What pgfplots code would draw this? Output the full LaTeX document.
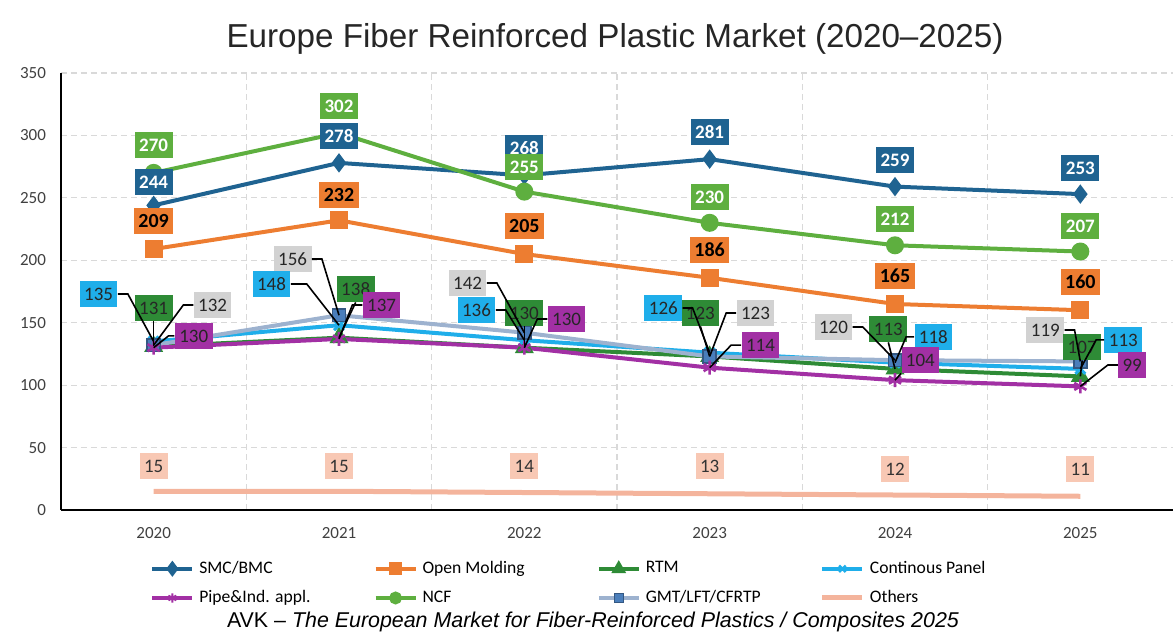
\documentclass[border=0pt]{standalone}
\usepackage{fontspec}
\setmainfont{Carlito}
\newfontfamily\arial{Liberation Sans}
\usepackage{pgfplots}
\pgfplotsset{compat=1.18}
\definecolor{smc}{HTML}{1F6391}
\definecolor{omold}{HTML}{ED7D31}
\definecolor{rtm}{HTML}{2E8B36}
\definecolor{cpan}{HTML}{1FAEEA}
\definecolor{pipe}{HTML}{A230A4}
\definecolor{ncf}{HTML}{5EAF3F}
\definecolor{gmt}{HTML}{9DB2CF}
\definecolor{gmtbox}{HTML}{D2D2D2}
\definecolor{gmtmark}{HTML}{4A7EBB}
\definecolor{oth}{HTML}{F4B49C}
\definecolor{othbox}{HTML}{F8C8B4}
\definecolor{gridc}{HTML}{D9D9D9}
\tikzset{lab/.style={inner sep=2.2pt, minimum height=13pt, font=\fontsize{9.5}{11}\selectfont},
  lead/.style={line width=0.8pt, black}}
\pgfplotsset{geom/.style={at={(30.5pt,63.5pt)}, anchor=south west,
  scale only axis, width=556pt, height=218.5pt,
  xmin=-0.5, xmax=5.5, ymin=0, ymax=350}}
\begin{document}
\begin{tikzpicture}
\path[use as bounding box] (0pt,0pt) rectangle (587pt,318.5pt);
\node[font=\arial\fontsize{16.6}{19}\selectfont, text=black!85] at (307.5pt,299pt) {Europe Fiber Reinforced Plastic Market (2020–2025)};
\node[font=\arial\fontsize{10.7}{12}\selectfont] at (296.5pt,7.5pt) {AVK – \textit{The European Market for Fiber-Reinforced Plastics / Composites 2025}};
\begin{axis}[
  geom,
  axis lines*=left,
  axis line style={black, line width=1.1pt},
  xtick={0,1,2,3,4,5},
  xticklabels={2020,2021,2022,2023,2024,2025},
  minor xtick={0.5,1.5,2.5,3.5,4.5},
  ytick={0,50,...,350},
  major tick length=0pt, minor tick length=0pt,
  ymajorgrids, xminorgrids,
  major grid style={gridc, dash pattern=on 3pt off 2pt, line width=0.6pt},
  minor grid style={gridc, dash pattern=on 3pt off 2pt, line width=0.6pt},
  /pgf/number format/assume math mode=true,
  tick label style={font=\fontsize{8.5}{10}\selectfont, text=black!75},
  xticklabel style={yshift=-5pt},
  yticklabel style={xshift=-4pt},
  legend columns=4,
  legend style={at={(0.080,-0.107)}, anchor=north west, draw=none, fill=none,
    font=\fontsize{8.8}{10}\selectfont, inner sep=0pt, row sep=3pt,
    /tikz/every odd column/.append style={column sep=0.5pt},
    /tikz/every even column/.append style={column sep=0pt}},
  legend image code/.code={\draw[mark repeat=2,mark phase=2,#1] plot coordinates {(0pt,0pt) (10pt,0pt) (20pt,0pt)};},
  every axis plot/.append style={line width=2pt},
]
\addplot[smc, mark=diamond*, mark size=3.2pt, forget plot] coordinates {(0,244) (1,278) (2,268) (3,281) (4,259) (5,253)};
\addplot[omold, mark=square*, mark size=3.5pt, forget plot] coordinates {(0,209) (1,232) (2,205) (3,186) (4,165) (5,160)};
\addplot[rtm, mark=triangle*, mark size=3.5pt, forget plot] coordinates {(0,131) (1,138) (2,130) (3,123) (4,113) (5,107)};
\addplot[cpan, mark=x, mark size=3.5pt, mark options={line width=1.5pt}, forget plot] coordinates {(0,135) (1,148) (2,136) (3,126) (4,118) (5,113)};
\addplot[gmt, mark=square*, mark size=3.2pt, mark options={fill=gmtmark, draw=gmtmark!70!black, line width=0.8pt}, forget plot] coordinates {(0,132) (1,156) (2,142) (3,123) (4,120) (5,119)};
\addplot[pipe, mark=asterisk, mark size=3.5pt, mark options={line width=1.3pt}, forget plot] coordinates {(0,130) (1,137) (2,130) (3,114) (4,104) (5,99)};
\addplot[ncf, mark=*, mark size=3.5pt, forget plot] coordinates {(0,270) (1,302) (2,255) (3,230) (4,212) (5,207)};
\addplot[oth, line width=2.5pt, forget plot] coordinates {(0,15) (1,15) (2,14) (3,13) (4,12) (5,11)};
\addlegendimage{smc, line width=2pt, mark=diamond*, mark size=2.4pt}
\addlegendentry{\makebox[85.1pt][l]{SMC/BMC}}
\addlegendimage{omold, line width=2pt, mark=square*, mark size=2.3pt}
\addlegendentry{\makebox[85.1pt][l]{Open Molding}}
\addlegendimage{rtm, line width=2pt, mark=triangle*, mark size=2.3pt}
\addlegendentry{\makebox[85.1pt][l]{RTM}}
\addlegendimage{cpan, line width=2pt, mark=x, mark size=2.3pt, mark options={line width=1.2pt}}
\addlegendentry{\makebox[85.1pt][l]{Continous Panel}}
\addlegendimage{pipe, line width=2pt, mark=asterisk, mark size=2.3pt, mark options={line width=1.1pt}}
\addlegendentry{\makebox[85.1pt][l]{Pipe\&Ind. appl.}}
\addlegendimage{ncf, line width=2pt, mark=*, mark size=2.2pt}
\addlegendentry{\makebox[85.1pt][l]{NCF}}
\addlegendimage{gmt, line width=2pt, mark=square*, mark size=2.2pt, mark options={fill=gmtmark, draw=gmtmark!70!black, line width=0.6pt}}
\addlegendentry{\makebox[85.1pt][l]{GMT/LFT/CFRTP}}
\addlegendimage{oth, line width=2.5pt}
\addlegendentry{\makebox[85.1pt][l]{Others}}
\end{axis}
\begin{axis}[geom, hide axis]
\node[lab, fill=smc, text=white, font=\bfseries\fontsize{9.5}{11}\selectfont] at (axis cs:0,262.7) {244};
\node[lab, fill=smc, text=white, font=\bfseries\fontsize{9.5}{11}\selectfont] at (axis cs:1,299.5) {278};
\node[lab, fill=smc, text=white, font=\bfseries\fontsize{9.5}{11}\selectfont] at (axis cs:2,290) {268};
\node[lab, fill=smc, text=white, font=\bfseries\fontsize{9.5}{11}\selectfont] at (axis cs:3,302.7) {281};
\node[lab, fill=smc, text=white, font=\bfseries\fontsize{9.5}{11}\selectfont] at (axis cs:4,280.3) {259};
\node[lab, fill=smc, text=white, font=\bfseries\fontsize{9.5}{11}\selectfont] at (axis cs:5,274) {253};
\node[lab, fill=omold, text=black, font=\bfseries\fontsize{10}{11}\selectfont] at (axis cs:0,231.5) {209};
\node[lab, fill=omold, text=black, font=\bfseries\fontsize{10}{11}\selectfont] at (axis cs:1,252.3) {232};
\node[lab, fill=omold, text=black, font=\bfseries\fontsize{10}{11}\selectfont] at (axis cs:2,227.5) {205};
\node[lab, fill=omold, text=black, font=\bfseries\fontsize{10}{11}\selectfont] at (axis cs:3,208.2) {186};
\node[lab, fill=omold, text=black, font=\bfseries\fontsize{10}{11}\selectfont] at (axis cs:4,187.4) {165};
\node[lab, fill=omold, text=black, font=\bfseries\fontsize{10}{11}\selectfont] at (axis cs:5,182.6) {160};
\node[lab, fill=ncf, text=white, font=\bfseries\fontsize{9.5}{11}\selectfont] at (axis cs:0,292.3) {270};
\node[lab, fill=ncf, text=white, font=\bfseries\fontsize{9.5}{11}\selectfont] at (axis cs:1,323.6) {302};
\node[lab, fill=ncf, text=white, font=\bfseries\fontsize{9.5}{11}\selectfont] at (axis cs:2,274.7) {255};
\node[lab, fill=ncf, text=white, font=\bfseries\fontsize{9.5}{11}\selectfont] at (axis cs:3,250.7) {230};
\node[lab, fill=ncf, text=white, font=\bfseries\fontsize{9.5}{11}\selectfont] at (axis cs:4,233) {212};
\node[lab, fill=ncf, text=white, font=\bfseries\fontsize{9.5}{11}\selectfont] at (axis cs:5,227.5) {207};
\node[lab, fill=othbox, text=black!80] at (axis cs:0,35.2) {15};
\node[lab, fill=othbox, text=black!80] at (axis cs:1,35.2) {15};
\node[lab, fill=othbox, text=black!80] at (axis cs:2,35.2) {14};
\node[lab, fill=othbox, text=black!80] at (axis cs:3,35.2) {13};
\node[lab, fill=othbox, text=black!80] at (axis cs:4,32.5) {12};
\node[lab, fill=othbox, text=black!80] at (axis cs:5,32.5) {11};
\node[lab, fill=cpan, text=black!85] (c0) at (axis cs:-0.297,173) {135};
\node[lab, fill=rtm, text=black!85] (r0) at (axis cs:0,161.8) {131};
\node[lab, fill=gmtbox, text=black!85] (g0) at (axis cs:0.318,164.2) {132};
\node[lab, fill=pipe, text=black!85] (p0) at (axis cs:0.216,139.4) {130};
\node[lab, fill=gmtbox, text=black!85] (g1) at (axis cs:0.75,201) {156};
\node[lab, fill=cpan, text=black!85] (c1) at (axis cs:0.636,181) {148};
\node[lab, fill=rtm, text=black!85] (r1) at (axis cs:1.09,177) {138};
\node[lab, fill=pipe, text=black!85] (p1) at (axis cs:1.23,164.2) {137};
\node[lab, fill=gmtbox, text=black!85] (g2) at (axis cs:1.694,181.8) {142};
\node[lab, fill=cpan, text=black!85] (c2) at (axis cs:1.742,160.2) {136};
\node[lab, fill=rtm, text=black!85] (r2) at (axis cs:2,157.8) {130};
\node[lab, fill=pipe, text=black!85] (p2) at (axis cs:2.228,153) {130};
\node[lab, fill=cpan, text=black!85] (c3) at (axis cs:2.75,161.8) {126};
\node[lab, fill=rtm, text=black!85] (r3) at (axis cs:2.95,157.8) {123};
\node[lab, fill=gmtbox, text=black!85] (g3) at (axis cs:3.247,157.8) {123};
\node[lab, fill=pipe, text=black!85] (p3) at (axis cs:3.274,132.1) {114};
\node[lab, fill=gmtbox, text=black!85] (g4) at (axis cs:3.668,146.6) {120};
\node[lab, fill=rtm, text=black!85] (r4) at (axis cs:3.964,145) {113};
\node[lab, fill=cpan, text=black!85] (c4) at (axis cs:4.207,138.6) {118};
\node[lab, fill=pipe, text=black!85] (p4) at (axis cs:4.137,120.1) {104};
\node[lab, fill=gmtbox, text=black!85] (g5) at (axis cs:4.811,144.2) {119};
\node[lab, fill=rtm, text=black!85] (r5) at (axis cs:5.01,130.5) {107};
\node[lab, fill=cpan, text=black!85] (c5) at (axis cs:5.232,136.2) {113};
\node[lab, fill=pipe, text=black!85] (p5) at (axis cs:5.28,116.1) {99};
\draw[lead] (c0.east) -- ++(5pt,0pt) -- (axis cs:0,135);
\draw[lead] (r0.south) -- (axis cs:0,131);
\draw[lead] (g0.west) -- ++(-5pt,0pt) -- (axis cs:0,132);
\draw[lead] (p0.west) -- ++(-3pt,0pt) -- (axis cs:0,130);
\draw[lead] (g1.east) -- ++(5pt,0pt) -- (axis cs:1,156);
\draw[lead] (c1.east) -- ++(8pt,0pt) -- (axis cs:1,148);
\draw[lead] (r1.south) -- (axis cs:1,138);
\draw[lead] (p1.west) -- ++(-5pt,0pt) -- (axis cs:1,137);
\draw[lead] (g2.east) -- ++(5pt,0pt) -- (axis cs:2,142);
\draw[lead] (c2.east) -- ++(5pt,0pt) -- (axis cs:2,136);
\draw[lead] (r2.south) -- (axis cs:2,130);
\draw[lead] (p2.west) -- ++(-5pt,0pt) -- (axis cs:2,130);
\draw[lead] (c3.east) -- ++(5pt,0pt) -- (axis cs:3,126);
\draw[lead] (r3.south) -- (axis cs:3,123);
\draw[lead] (g3.west) -- ++(-5pt,0pt) -- (axis cs:3,123);
\draw[lead] (p3.west) -- ++(-5pt,0pt) -- (axis cs:3,114);
\draw[lead] (g4.east) -- ++(5pt,0pt) -- (axis cs:4,120);
\draw[lead] (r4.south) -- (axis cs:4,113);
\draw[lead] (c4.west) -- ++(-4pt,0pt) -- (axis cs:4,118);
\draw[lead] (p4.south west) -- (axis cs:4,104);
\draw[lead] (g5.east) -- ++(5pt,0pt) -- (axis cs:5,119);
\draw[lead] (r5.south) -- (axis cs:5,107);
\draw[lead] (c5.west) -- ++(-4pt,0pt) -- (axis cs:5,113);
\draw[lead] (p5.west) -- ++(-5pt,0pt) -- (axis cs:5,99);
\end{axis}
\end{tikzpicture}
\end{document}
